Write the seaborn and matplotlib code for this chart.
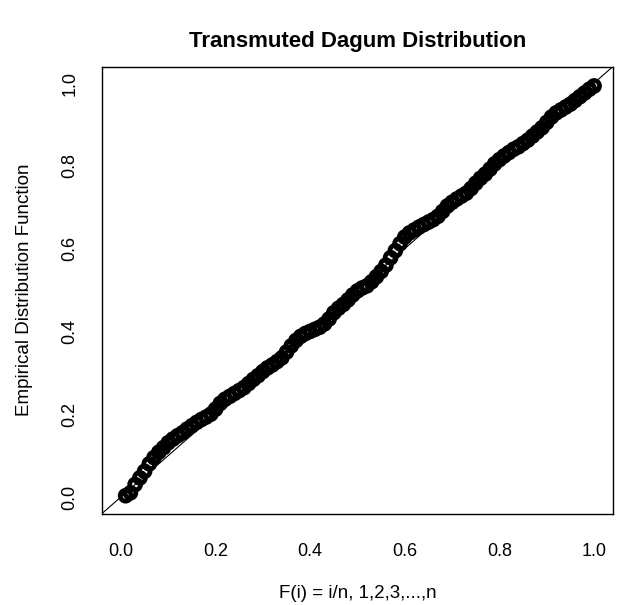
import numpy as np
import pandas as pd
import matplotlib
matplotlib.use("Agg")
import matplotlib.pyplot as plt
import seaborn as sns

# F(i) = i/n positions (x) and empirical distribution values (y)
fi = [0.01, 0.02, 0.03, 0.04, 0.05, 0.06, 0.07, 0.08, 0.09, 0.10,
      0.11, 0.12, 0.13, 0.14, 0.15, 0.16, 0.17, 0.18, 0.19, 0.20,
      0.21, 0.22, 0.23, 0.24, 0.25, 0.26, 0.27, 0.28, 0.29, 0.30,
      0.31, 0.32, 0.33, 0.34, 0.35, 0.36, 0.37, 0.38, 0.39, 0.40,
      0.41, 0.42, 0.43, 0.44, 0.45, 0.46, 0.47, 0.48, 0.49, 0.50,
      0.51, 0.52, 0.53, 0.54, 0.55, 0.56, 0.57, 0.58, 0.59, 0.60,
      0.61, 0.62, 0.63, 0.64, 0.65, 0.66, 0.67, 0.68, 0.69, 0.70,
      0.71, 0.72, 0.73, 0.74, 0.75, 0.76, 0.77, 0.78, 0.79, 0.80,
      0.81, 0.82, 0.83, 0.84, 0.85, 0.86, 0.87, 0.88, 0.89, 0.90,
      0.91, 0.92, 0.93, 0.94, 0.95, 0.96, 0.97, 0.98, 0.99, 1.00]
edf = [0.003, 0.010, 0.030, 0.046, 0.062, 0.080, 0.095, 0.108, 0.119, 0.131,
       0.140, 0.148, 0.155, 0.164, 0.172, 0.180, 0.187, 0.193, 0.200, 0.212,
       0.226, 0.236, 0.243, 0.250, 0.257, 0.264, 0.274, 0.284, 0.293, 0.303,
       0.312, 0.319, 0.327, 0.336, 0.350, 0.365, 0.378, 0.388, 0.395, 0.400,
       0.405, 0.410, 0.418, 0.430, 0.445, 0.456, 0.465, 0.476, 0.488, 0.498,
       0.505, 0.510, 0.520, 0.532, 0.545, 0.560, 0.578, 0.595, 0.612, 0.628,
       0.638, 0.645, 0.652, 0.658, 0.664, 0.670, 0.678, 0.690, 0.703, 0.712,
       0.720, 0.727, 0.734, 0.745, 0.758, 0.770, 0.780, 0.792, 0.805, 0.815,
       0.824, 0.832, 0.840, 0.846, 0.854, 0.862, 0.872, 0.882, 0.892, 0.905,
       0.918, 0.928, 0.935, 0.942, 0.949, 0.958, 0.967, 0.976, 0.985, 0.993]
tick_vals = [0.0, 0.2, 0.4, 0.6, 0.8, 1.0]
tick_labels = ["0.0", "0.2", "0.4", "0.6", "0.8", "1.0"]

title = "Transmuted Dagum Distribution"
xlabel = "F(i) = i/n, 1,2,3,...,n"
ylabel = "Empirical Distribution Function"

sns.set_style("white")
plt.rcParams["font.family"] = ["Liberation Sans", "DejaVu Sans"]
plt.rcParams["text.color"] = "black"
plt.rcParams["axes.labelcolor"] = "black"
plt.rcParams["xtick.color"] = "black"
plt.rcParams["ytick.color"] = "black"

df = pd.DataFrame({"F": fi, "EDF": edf})

W, H = 617, 605
fig = plt.figure(figsize=(W / 100, H / 100), dpi=100)
left, right, top, bottom = 102, 613, 66.5, 513.5
ax = fig.add_axes([left / W, 1 - bottom / H, (right - left) / W, (bottom - top) / H])

sns.scatterplot(data=df, x="F", y="EDF", ax=ax, marker="o", s=62,
                facecolor="none", edgecolor="black", linewidth=3.4, zorder=3)
ax.axline((0, 0), (1, 1), color="black", linewidth=0.8, zorder=2)

ax.set_xlim(-0.04, 1.04)
ax.set_ylim(-0.04, 1.04)
ax.set_xticks(tick_vals)
ax.set_xticklabels(tick_labels)
ax.set_yticks(tick_vals)
ax.set_yticklabels(tick_labels, rotation=90, va="center")

for s in ax.spines.values():
    s.set_visible(True)
    s.set_color("black")
    s.set_linewidth(1.0)

ax.tick_params(axis="both", direction="out", length=8, width=0.9, colors="black",
               labelsize=13)
ax.tick_params(axis="x", pad=13)
ax.tick_params(axis="y", pad=9)
ax.grid(False)

ax.set_xlabel(xlabel, fontsize=13.5, va="center", color="black")
ax.xaxis.set_label_coords(0.5, -(593 - bottom) / (bottom - top))
ax.set_ylabel(ylabel, fontsize=13.5, va="center", color="black")
ax.yaxis.set_label_coords((24 - left) / (right - left), 0.5)

fig.text(0.5 * (left + right) / W, 1 - 42 / H, title, ha="center", va="center",
         fontsize=16, fontweight="bold", color="black")

fig.savefig("out.png", dpi=100, facecolor="white")
